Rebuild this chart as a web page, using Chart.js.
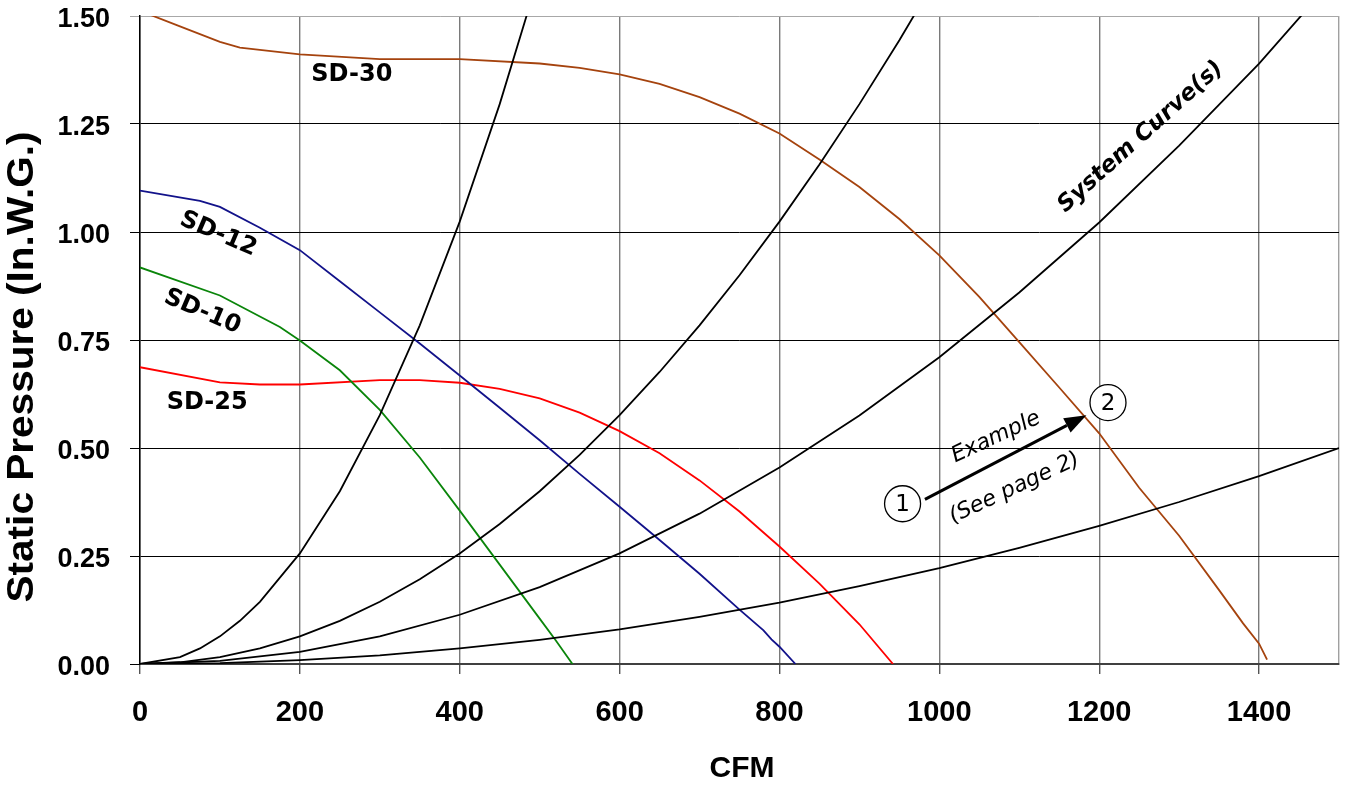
<!DOCTYPE html>
<html>
<head>
<meta charset="utf-8">
<script src="https://cdn.jsdelivr.net/npm/chart.js@4"></script>
<style>
  html, body { margin: 0; padding: 0; background: #fff; }
  #wrap { width: 1346px; height: 787px; position: relative; }
</style>
</head>
<body>
<div id="wrap"><canvas id="fanChart"></canvas></div>
<script>
// fan curves (CFM vs static pressure, in. W.G.)
const sd30Cfm = [0, 50, 100, 125, 200, 300, 400, 500, 550, 600, 650, 700, 750, 800, 850, 900, 950, 1000, 1050, 1100, 1150, 1200, 1250, 1300, 1350, 1380, 1400, 1410];
const sd30Sp  = [1.512, 1.476, 1.44, 1.427, 1.411, 1.40, 1.40, 1.39, 1.38, 1.365, 1.343, 1.312, 1.274, 1.228, 1.168, 1.104, 1.03, 0.946, 0.85, 0.745, 0.64, 0.534, 0.408, 0.297, 0.171, 0.094, 0.047, 0.01];

const sd12Cfm = [0, 75, 100, 150, 200, 250, 300, 350, 400, 450, 500, 550, 600, 650, 700, 750, 780, 790, 800, 820];
const sd12Sp  = [1.096, 1.072, 1.058, 1.01, 0.958, 0.886, 0.814, 0.742, 0.668, 0.593, 0.518, 0.44, 0.364, 0.287, 0.209, 0.126, 0.078, 0.057, 0.04, 0.0];

const sd10Cfm = [0, 100, 175, 200, 250, 300, 350, 400, 450, 500, 520, 541];
const sd10Sp  = [0.918, 0.853, 0.78, 0.749, 0.68, 0.588, 0.478, 0.355, 0.23, 0.105, 0.055, 0.0];

const sd25Cfm = [0, 100, 150, 200, 300, 350, 400, 450, 500, 550, 600, 650, 700, 750, 800, 850, 900, 942];
const sd25Sp  = [0.687, 0.652, 0.647, 0.647, 0.657, 0.657, 0.651, 0.637, 0.615, 0.582, 0.539, 0.488, 0.425, 0.353, 0.272, 0.186, 0.092, 0.0];

// system curves
const sysACfm = [0, 50, 75, 100, 125, 150, 200, 250, 300, 350, 400, 450, 500];
const sysASp  = [0, 0.016, 0.036, 0.064, 0.1, 0.144, 0.256, 0.4, 0.576, 0.784, 1.024, 1.296, 1.6];

const sysBCfm = [0, 50, 100, 150, 200, 250, 300, 350, 400, 450, 500, 550, 600, 650, 700, 750, 800, 850, 900, 950, 1000];
const sysBSp  = [0, 0.004, 0.016, 0.036, 0.064, 0.1, 0.144, 0.196, 0.256, 0.324, 0.4, 0.484, 0.576, 0.676, 0.784, 0.9, 1.024, 1.156, 1.296, 1.444, 1.6];

const sysCCfm = [0, 100, 200, 300, 400, 500, 600, 700, 800, 900, 1000, 1100, 1200, 1300, 1400, 1500];
const sysCSp  = [0, 0.007, 0.028, 0.064, 0.114, 0.178, 0.256, 0.348, 0.455, 0.575, 0.71, 0.86, 1.022, 1.2, 1.39, 1.6];

const sysDCfm = [0, 100, 200, 300, 400, 500, 600, 700, 800, 900, 1000, 1100, 1200, 1300, 1400, 1500];
const sysDSp  = [0, 0.002, 0.009, 0.02, 0.036, 0.056, 0.08, 0.109, 0.142, 0.18, 0.222, 0.269, 0.32, 0.375, 0.435, 0.5];

const xTickValues = [0, 200, 400, 600, 800, 1000, 1200, 1400, 1500];
const yTickValues = [0, 0.25, 0.5, 0.75, 1.0, 1.25, 1.5];

// labels placed in data coordinates
const curveLabels = [
  { text: 'SD-30', cfm: 265, sp: 1.363, angle: 0 },
  { text: 'SD-12', cfm: 98, sp: 0.995, angle: 23 },
  { text: 'SD-10', cfm: 78, sp: 0.815, angle: 23 },
  { text: 'SD-25', cfm: 84, sp: 0.605, angle: 0 }
];

const pts = (xs, ys) => xs.map((v, i) => ({ x: v, y: ys[i] }));

function serie(xs, ys, color) {
  return {
    data: pts(xs, ys),
    showLine: true,
    borderColor: color,
    borderWidth: 1.8,
    pointRadius: 0,
    tension: 0,
    fill: false
  };
}

const tickFont = 'Arial, "Liberation Sans", sans-serif';
const labelFont = 'Verdana, "DejaVu Sans", sans-serif';

const notes = {
  id: 'notes',
  afterDatasetsDraw(chart) {
    const { ctx } = chart;
    const x = chart.scales.x, y = chart.scales.y;
    const px = v => x.getPixelForValue(v);
    const py = v => y.getPixelForValue(v);

    ctx.save();
    ctx.fillStyle = '#000';
    ctx.strokeStyle = '#000';
    ctx.textAlign = 'center';
    ctx.textBaseline = 'middle';

    // curve names
    ctx.font = 'bold 24px ' + labelFont;
    curveLabels.forEach(l => {
      ctx.save();
      ctx.translate(px(l.cfm), py(l.sp));
      ctx.rotate(l.angle * Math.PI / 180);
      ctx.fillText(l.text, 0, 0);
      ctx.restore();
    });

    ctx.save();
    ctx.translate(px(1252), py(1.22));
    ctx.rotate(-42 * Math.PI / 180);
    ctx.font = 'italic bold 23px ' + labelFont;
    ctx.fillText('System Curve(s)', 0, 0);
    ctx.restore();

    // example
    ctx.font = 'italic 22px ' + labelFont;
    ctx.save();
    ctx.translate(px(1071), py(0.525));
    ctx.rotate(-25 * Math.PI / 180);
    ctx.fillText('Example', 0, 0);
    ctx.restore();
    ctx.save();
    ctx.translate(px(1094), py(0.407));
    ctx.rotate(-25 * Math.PI / 180);
    ctx.fillText('(See page 2)', 0, 0);
    ctx.restore();

    // numbered circles
    ctx.font = '23px ' + labelFont;
    ctx.lineWidth = 1.3;
    [[954, 0.371, '1'], [1211, 0.605, '2']].forEach(c => {
      const cx = px(c[0]), cy = py(c[1]);
      ctx.fillStyle = '#fff';
      ctx.beginPath();
      ctx.arc(cx, cy, 18, 0, Math.PI * 2);
      ctx.fill();
      ctx.stroke();
      ctx.fillStyle = '#000';
      ctx.fillText(c[2], cx, cy + 1);
    });

    // arrow
    const x1 = px(982), y1 = py(0.381), x2 = px(1184), y2 = py(0.576);
    const a = Math.atan2(y2 - y1, x2 - x1);
    const head = 22, half = 8;
    ctx.lineWidth = 3;
    ctx.beginPath();
    ctx.moveTo(x1, y1);
    ctx.lineTo(x2 - head * Math.cos(a), y2 - head * Math.sin(a));
    ctx.stroke();
    ctx.beginPath();
    ctx.moveTo(x2, y2);
    ctx.lineTo(x2 - head * Math.cos(a) + half * Math.sin(a), y2 - head * Math.sin(a) - half * Math.cos(a));
    ctx.lineTo(x2 - head * Math.cos(a) - half * Math.sin(a), y2 - head * Math.sin(a) + half * Math.cos(a));
    ctx.closePath();
    ctx.fill();

    // axis titles
    ctx.font = 'bold 30px ' + tickFont;
    ctx.fillText('CFM', 742, 769);

    const yt = 'Static Pressure (In.W.G.)';
    ctx.save();
    ctx.translate(23, 367);
    ctx.rotate(-Math.PI / 2);
    ctx.font = 'bold 36px ' + tickFont;
    const w = ctx.measureText(yt).width;
    ctx.scale(471 / w, 1);
    ctx.fillText(yt, 0, 0);
    ctx.restore();

    ctx.restore();
  }
};

new Chart(document.getElementById('fanChart'), {
  type: 'scatter',
  data: {
    datasets: [
      serie(sysACfm, sysASp, '#000'),
      serie(sysBCfm, sysBSp, '#000'),
      serie(sysCCfm, sysCSp, '#000'),
      serie(sysDCfm, sysDSp, '#000'),
      serie(sd30Cfm, sd30Sp, '#a5430e'),
      serie(sd12Cfm, sd12Sp, '#12128a'),
      serie(sd10Cfm, sd10Sp, '#0a850a'),
      serie(sd25Cfm, sd25Sp, '#ff0000')
    ]
  },
  options: {
    responsive: true,
    maintainAspectRatio: false,
    animation: false,
    layout: { padding: { top: 16, right: 7, left: 0, bottom: 0 } },
    plugins: {
      legend: { display: false },
      tooltip: { enabled: false }
    },
    scales: {
      x: {
        type: 'linear',
        min: 0,
        max: 1500,
        afterBuildTicks: s => { s.ticks = xTickValues.map(v => ({ value: v })); },
        afterFit: s => {
          s.height = 123;
          s.paddingLeft = 0;
          s.paddingRight = 0;
        },
        ticks: {
          color: '#000',
          padding: 22,
          maxRotation: 0,
          autoSkip: false,
          font: { family: tickFont, size: 29, weight: 'bold' },
          callback: v => (v === 1500 ? '' : String(v))
        },
        grid: {
          color: c => (c.tick && c.tick.value === 1500 ? '#a0a0a0' : '#7a7a7a'),
          lineWidth: 1.4,
          tickLength: 10,
          tickColor: c => (c.tick && c.tick.value === 1500 ? 'rgba(0,0,0,0)' : '#555')
        },
        border: { color: '#404040', width: 2 }
      },
      y: {
        min: 0,
        max: 1.5,
        afterBuildTicks: s => { s.ticks = yTickValues.map(v => ({ value: v })); },
        afterFit: s => {
          s.width = 140;
          s.paddingTop = 0;
          s.paddingBottom = 0;
        },
        ticks: {
          color: '#000',
          padding: 20,
          labelOffset: 4,
          font: { family: tickFont, size: 27, weight: 'bold' },
          callback: v => v.toFixed(2)
        },
        grid: {
          color: c => (c.tick && c.tick.value === 1.5 ? '#a8a8a8' : '#000'),
          lineWidth: 1,
          tickLength: 10,
          tickColor: c => (c.tick && c.tick.value === 1.5 ? '#a8a8a8' : '#000')
        },
        border: { color: '#000', width: 1.5 }
      }
    }
  },
  plugins: [notes]
});
</script>
</body>
</html>
